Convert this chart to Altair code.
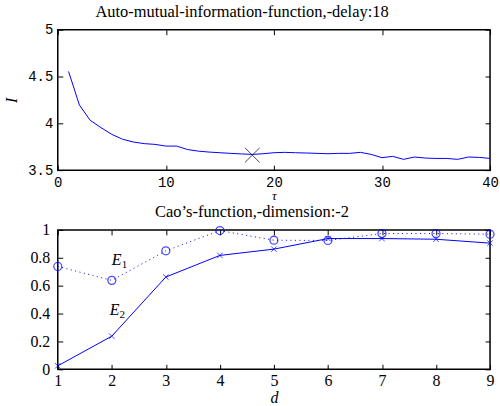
import altair as alt
import pandas as pd

# ---- data: auto-mutual information ----
tau = list(range(1, 41))
ami = [4.554, 4.196, 4.032, 3.954, 3.882, 3.830, 3.800, 3.783, 3.775, 3.757,
       3.757, 3.720, 3.703, 3.693, 3.686, 3.679, 3.673, 3.668, 3.675, 3.686,
       3.690, 3.686, 3.683, 3.679, 3.675, 3.679, 3.679, 3.690, 3.668, 3.633,
       3.647, 3.615, 3.640, 3.629, 3.625, 3.625, 3.615, 3.640, 3.636, 3.625]
delay_tau = [18]
delay_ami = [3.66]

# ---- data: Cao's function ----
dims = [1, 2, 3, 4, 5, 6, 7, 8, 9]
e1 = [0.738, 0.638, 0.850, 0.995, 0.926, 0.924, 0.974, 0.974, 0.969]
e2 = [0.025, 0.238, 0.662, 0.817, 0.862, 0.938, 0.938, 0.933, 0.905]
lab_main = ["E", "E"]
lab_sub = ["1", "2"]
lab_d = [2.0, 1.96]
lab_val = [0.75, 0.393]

df_ami = pd.DataFrame({"tau": tau, "I": ami})
df_delay = pd.DataFrame({"tau": delay_tau, "I": delay_ami})
df_cao = pd.DataFrame({"d": dims, "E1": e1, "E2": e2})
df_lab = pd.DataFrame({"d": lab_d, "v": lab_val, "main": lab_main, "sub": lab_sub})

BLUE = "#0000ff"
SERIF = "Liberation Serif"
MONO = "Liberation Mono"
XPATH = "M-1,-1L1,1M-1,1L1,-1"

def tick_axis(orient, vals):
    return alt.Axis(orient=orient, values=vals, labels=False, domain=False,
                    grid=False, ticks=True, tickSize=5, offset=-5,
                    tickColor="black", tickWidth=1, title="")

def frame_layers(df, xf, yf, xs, ys, xv, yv):
    a = alt.Chart(df).mark_point(opacity=0).encode(
        x=alt.X(xf, type="quantitative", scale=xs, axis=tick_axis("bottom", xv)),
        y=alt.Y(yf, type="quantitative", scale=ys, axis=tick_axis("left", yv)),
    )
    b = alt.Chart(df).mark_point(opacity=0).encode(
        x=alt.X(xf, type="quantitative", scale=xs, axis=tick_axis("top", xv)),
        y=alt.Y(yf, type="quantitative", scale=ys, axis=tick_axis("right", yv)),
    )
    return [a, b]

# ---------------- top panel ----------------
xs1 = alt.Scale(domain=[0, 40], nice=False, zero=False)
ys1 = alt.Scale(domain=[3.5, 5], nice=False, zero=False)
xv1 = [0, 10, 20, 30, 40]
yv1 = [3.5, 4, 4.5, 5]

top_line = alt.Chart(df_ami).mark_line(color=BLUE, strokeWidth=1).encode(
    x=alt.X("tau:Q", scale=xs1, axis=alt.Axis(
        orient="bottom", values=xv1, ticks=False, domain=False, grid=False,
        labelFont=MONO, labelFontSize=14, labelColor="black", labelPadding=5,
        labelFlush=False, title="τ", titleFont=SERIF, titleFontStyle="italic",
        titleFontWeight="normal", titleFontSize=13, titleColor="black", titlePadding=0)),
    y=alt.Y("I:Q", scale=ys1, axis=alt.Axis(
        orient="left", values=yv1, ticks=False, domain=False, grid=False,
        format=".1~f", labelFont=MONO, labelFontSize=14, labelColor="black",
        labelPadding=5, labelFlush=False, title="I", titleFont=SERIF,
        titleFontStyle="italic", titleFontWeight="normal", titleFontSize=16,
        titleColor="black", titlePadding=8)),
)
top_mark = alt.Chart(df_delay).mark_point(
    shape=XPATH, size=220, color="black", strokeWidth=1, filled=False
).encode(
    x=alt.X("tau:Q", scale=xs1, axis=None),
    y=alt.Y("I:Q", scale=ys1, axis=None),
)
top = alt.layer(
    top_line, top_mark, *frame_layers(df_ami, "tau", "I", xs1, ys1, xv1, yv1)
).resolve_axis(x="independent", y="independent").properties(
    width=434, height=141,
    title=alt.Title("Auto-mutual-information-function,-delay:18", font=SERIF,
                    fontSize=16.5, fontWeight="normal", color="black",
                    anchor="middle", frame="group", offset=2, dx=-32),
)

# ---------------- bottom panel ----------------
xs2 = alt.Scale(domain=[1, 9], nice=False, zero=False)
ys2 = alt.Scale(domain=[0, 1], nice=False, zero=False)
xv2 = dims
yv2 = [0, 0.2, 0.4, 0.6, 0.8, 1]

e2_line = alt.Chart(df_cao).mark_line(color=BLUE, strokeWidth=1).encode(
    x=alt.X("d:Q", scale=xs2, axis=alt.Axis(
        orient="bottom", values=xv2, ticks=False, domain=False, grid=False,
        labelFont=SERIF, labelFontSize=16, labelColor="black", labelPadding=3,
        labelFlush=False, title="d", titleFont=SERIF, titleFontStyle="italic",
        titleFontWeight="normal", titleFontSize=16, titleColor="black", titlePadding=1)),
    y=alt.Y("E2:Q", scale=ys2, axis=alt.Axis(
        orient="left", values=yv2, ticks=False, domain=False, grid=False,
        format=".1~f", labelFont=SERIF, labelFontSize=16, labelColor="black",
        labelPadding=8, labelFlush=False, title="")),
)
e2_pts = alt.Chart(df_cao).mark_point(
    shape=XPATH, size=30, color=BLUE, strokeWidth=1, filled=False
).encode(
    x=alt.X("d:Q", scale=xs2, axis=None),
    y=alt.Y("E2:Q", scale=ys2, axis=None),
)
e1_line = alt.Chart(df_cao).mark_line(
    color=BLUE, strokeWidth=1, strokeDash=[1, 3.5]
).encode(
    x=alt.X("d:Q", scale=xs2, axis=None),
    y=alt.Y("E1:Q", scale=ys2, axis=None),
)
e1_pts = alt.Chart(df_cao).mark_point(
    shape="circle", size=64, color=BLUE, strokeWidth=1.3, filled=False
).encode(
    x=alt.X("d:Q", scale=xs2, axis=None),
    y=alt.Y("E1:Q", scale=ys2, axis=None),
)
lab_e = alt.Chart(df_lab).mark_text(
    font=SERIF, fontSize=16, fontStyle="italic", align="left",
    baseline="alphabetic", color="black"
).encode(
    x=alt.X("d:Q", scale=xs2, axis=None),
    y=alt.Y("v:Q", scale=ys2, axis=None),
    text="main:N",
)
lab_s = alt.Chart(df_lab).mark_text(
    font=SERIF, fontSize=11, align="left", baseline="alphabetic",
    color="black", dx=10, dy=3
).encode(
    x=alt.X("d:Q", scale=xs2, axis=None),
    y=alt.Y("v:Q", scale=ys2, axis=None),
    text="sub:N",
)
bottom = alt.layer(
    e2_line, e2_pts, e1_line, e1_pts, lab_e, lab_s,
    *frame_layers(df_cao, "d", "E2", xs2, ys2, xv2, yv2)
).resolve_axis(x="independent", y="independent").properties(
    width=434, height=140,
    title=alt.Title("Cao\u2019s-function,-dimension:-2", font=SERIF,
                    fontSize=16.5, fontWeight="normal", color="black",
                    anchor="middle", frame="group", offset=1, dx=-22),
)

chart = alt.vconcat(top, bottom, spacing=60, bounds="flush").configure_view(
    stroke="black", strokeWidth=1.5
).properties(padding={"left": 3, "top": 2, "right": 0, "bottom": 0})

chart.save("out.html", embed_options={"renderer": "svg", "actions": False})
